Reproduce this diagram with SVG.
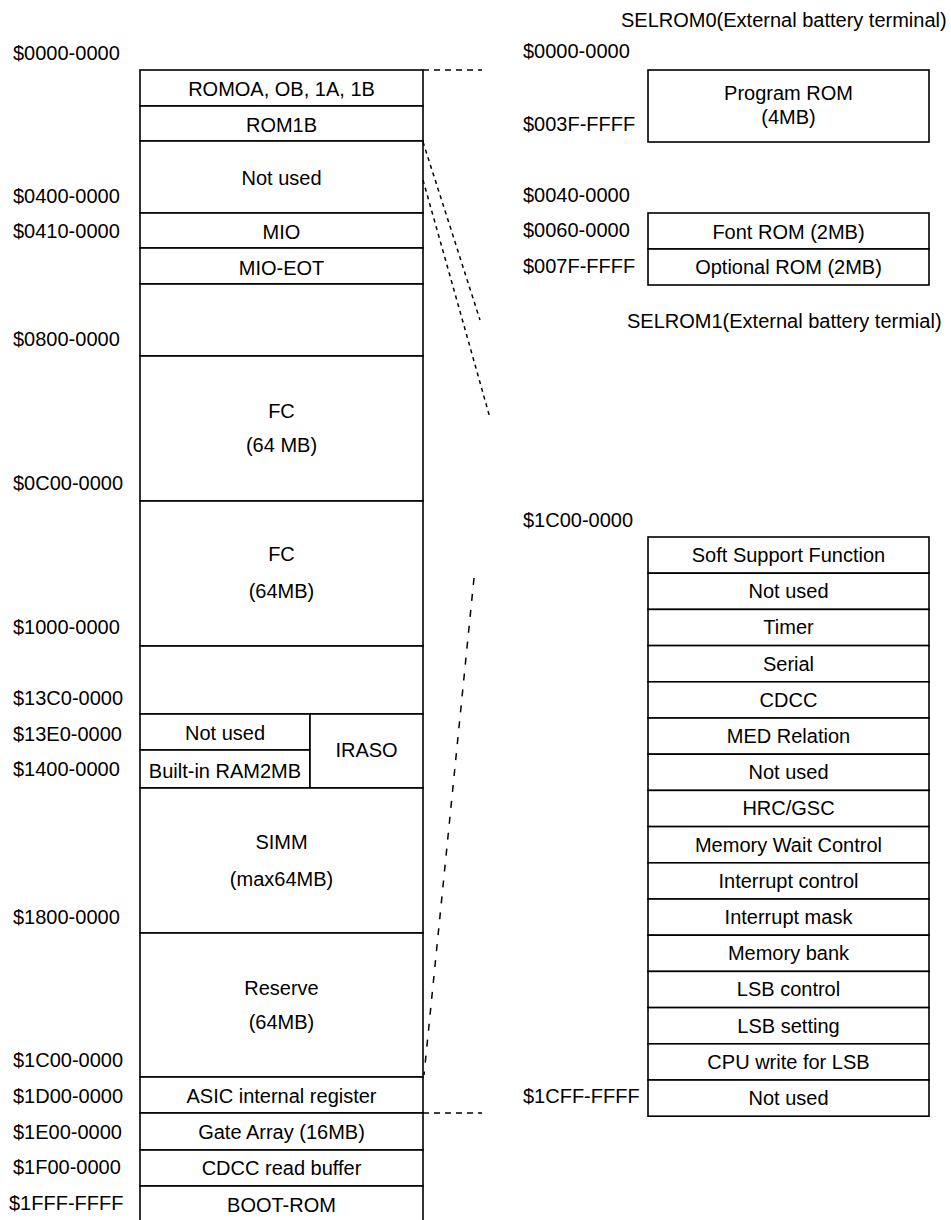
<svg xmlns="http://www.w3.org/2000/svg" width="951" height="1220" viewBox="0 0 951 1220">
<style>
text{font-family:"Liberation Sans",Arial,sans-serif;font-size:20px;fill:#000}
.c{text-anchor:middle}
.box{fill:#fff;stroke:#000;stroke-width:1.6}
.dl{fill:none;stroke:#000;stroke-width:1.5}
.h{stroke-dasharray:6 5}
.s{stroke-dasharray:4 4}
.l{stroke-dasharray:7 9}
</style>
<rect width="951" height="1220" fill="#fff"/>
<g id="addr-left">
<text x="13" y="60">$0000-0000</text>
<text x="13" y="203">$0400-0000</text>
<text x="13" y="238">$0410-0000</text>
<text x="13" y="346">$0800-0000</text>
<text x="13" y="490">$0C00-0000</text>
<text x="13" y="634">$1000-0000</text>
<text x="13" y="705">$13C0-0000</text>
<text x="13" y="741">$13E0-0000</text>
<text x="13" y="776">$1400-0000</text>
<text x="13" y="924">$1800-0000</text>
<text x="13" y="1067">$1C00-0000</text>
<text x="13" y="1103">$1D00-0000</text>
<text x="13" y="1139">$1E00-0000</text>
<text x="13" y="1174">$1F00-0000</text>
<text x="9" y="1210">$1FFF-FFFF</text>
</g>
<g id="n-romoa"><rect class="box" x="140" y="70" width="283" height="36"/><text class="c" x="281.5" y="96">ROMOA, OB, 1A, 1B</text></g>
<g id="n-rom1b"><rect class="box" x="140" y="106" width="283" height="35"/><text class="c" x="281.5" y="132">ROM1B</text></g>
<g id="n-notused1"><rect class="box" x="140" y="141" width="283" height="72"/><text class="c" x="281.5" y="185">Not used</text></g>
<g id="n-mio"><rect class="box" x="140" y="213" width="283" height="35"/><text class="c" x="281.5" y="239">MIO</text></g>
<g id="n-mioeot"><rect class="box" x="140" y="248" width="283" height="36"/><text class="c" x="281.5" y="275">MIO-EOT</text></g>
<g id="n-blank1"><rect class="box" x="140" y="284" width="283" height="72"/></g>
<g id="n-fc1"><rect class="box" x="140" y="356" width="283" height="145"/><text class="c" x="281.5" y="418">FC</text><text class="c" x="281.5" y="452">(64 MB)</text></g>
<g id="n-fc2"><rect class="box" x="140" y="501" width="283" height="145"/><text class="c" x="281.5" y="561">FC</text><text class="c" x="281.5" y="598">(64MB)</text></g>
<g id="n-blank2"><rect class="box" x="140" y="646" width="283" height="68"/></g>
<g id="n-notused2"><rect class="box" x="140" y="714" width="170" height="36"/><text class="c" x="225" y="740">Not used</text></g>
<g id="n-ram2mb"><rect class="box" x="140" y="750" width="170" height="38"/><text class="c" x="225" y="778">Built-in RAM2MB</text></g>
<g id="n-iraso"><rect class="box" x="310" y="714" width="113" height="74"/><text class="c" x="366.5" y="757">IRASO</text></g>
<g id="n-simm"><rect class="box" x="140" y="788" width="283" height="145"/><text class="c" x="281.5" y="849">SIMM</text><text class="c" x="281.5" y="886">(max64MB)</text></g>
<g id="n-reserve"><rect class="box" x="140" y="933" width="283" height="144"/><text class="c" x="281.5" y="995">Reserve</text><text class="c" x="281.5" y="1029">(64MB)</text></g>
<g id="n-asic"><rect class="box" x="140" y="1077" width="283" height="36"/><text class="c" x="281.5" y="1103">ASIC internal register</text></g>
<g id="n-gate"><rect class="box" x="140" y="1113" width="283" height="37"/><text class="c" x="281.5" y="1139">Gate Array (16MB)</text></g>
<g id="n-cdccbuf"><rect class="box" x="140" y="1150" width="283" height="36"/><text class="c" x="281.5" y="1175">CDCC read buffer</text></g>
<g id="n-bootrom"><rect class="box" x="140" y="1186" width="283" height="50"/><text class="c" x="281.5" y="1212">BOOT-ROM</text></g>

<g id="selrom0">
<text x="621" y="27">SELROM0(External battery terminal)</text>
<text x="523" y="58">$0000-0000</text>
<text x="523" y="131">$003F-FFFF</text>
<text x="523" y="202">$0040-0000</text>
<text x="523" y="237">$0060-0000</text>
<text x="523" y="273">$007F-FFFF</text>
</g>
<g id="n-progrom"><rect class="box" x="648" y="70" width="281" height="72"/><text class="c" x="788.5" y="100">Program ROM</text><text class="c" x="788.5" y="124">(4MB)</text></g>
<g id="n-fontrom"><rect class="box" x="648" y="213" width="281" height="36"/><text class="c" x="788.5" y="239">Font ROM (2MB)</text></g>
<g id="n-optrom"><rect class="box" x="648" y="249" width="281" height="36"/><text class="c" x="788.5" y="274">Optional ROM (2MB)</text></g>
<g id="selrom1"><text x="627" y="328">SELROM1(External battery termial)</text></g>

<g id="addr-right">
<text x="523" y="527">$1C00-0000</text>
<text x="523" y="1103">$1CFF-FFFF</text>
</g>
<g id="n-r01"><rect class="box" x="648" y="537" width="281" height="36.2"/><text class="c" x="788.5" y="562">Soft Support Function</text></g>
<g id="n-r02"><rect class="box" x="648" y="573.2" width="281" height="36.2"/><text class="c" x="788.5" y="598.2">Not used</text></g>
<g id="n-r03"><rect class="box" x="648" y="609.4" width="281" height="36.2"/><text class="c" x="788.5" y="634.4">Timer</text></g>
<g id="n-r04"><rect class="box" x="648" y="645.6" width="281" height="36.2"/><text class="c" x="788.5" y="670.6">Serial</text></g>
<g id="n-r05"><rect class="box" x="648" y="681.8" width="281" height="36.2"/><text class="c" x="788.5" y="706.8">CDCC</text></g>
<g id="n-r06"><rect class="box" x="648" y="718" width="281" height="36.2"/><text class="c" x="788.5" y="743">MED Relation</text></g>
<g id="n-r07"><rect class="box" x="648" y="754.2" width="281" height="36.2"/><text class="c" x="788.5" y="779.2">Not used</text></g>
<g id="n-r08"><rect class="box" x="648" y="790.4" width="281" height="36.2"/><text class="c" x="788.5" y="815.4">HRC/GSC</text></g>
<g id="n-r09"><rect class="box" x="648" y="826.6" width="281" height="36.2"/><text class="c" x="788.5" y="851.6">Memory Wait Control</text></g>
<g id="n-r10"><rect class="box" x="648" y="862.8" width="281" height="36.2"/><text class="c" x="788.5" y="887.8">Interrupt control</text></g>
<g id="n-r11"><rect class="box" x="648" y="899" width="281" height="36.2"/><text class="c" x="788.5" y="924">Interrupt mask</text></g>
<g id="n-r12"><rect class="box" x="648" y="935.2" width="281" height="36.2"/><text class="c" x="788.5" y="960.2">Memory bank</text></g>
<g id="n-r13"><rect class="box" x="648" y="971.4" width="281" height="36.2"/><text class="c" x="788.5" y="996.4">LSB control</text></g>
<g id="n-r14"><rect class="box" x="648" y="1007.6" width="281" height="36.2"/><text class="c" x="788.5" y="1032.6">LSB setting</text></g>
<g id="n-r15"><rect class="box" x="648" y="1043.8" width="281" height="36.2"/><text class="c" x="788.5" y="1068.8">CPU write for LSB</text></g>
<g id="n-r16"><rect class="box" x="648" y="1080" width="281" height="36.2"/><text class="c" x="788.5" y="1105">Not used</text></g>

<g id="connectors">
<line class="dl h" x1="423" y1="70" x2="482" y2="70"/>
<line class="dl h" x1="423" y1="1113" x2="482" y2="1113"/>
<line class="dl s" x1="423" y1="142" x2="480" y2="320"/>
<line class="dl s" x1="423" y1="180" x2="490" y2="418"/>
<line class="dl l" x1="474" y1="578" x2="424" y2="1075"/>
</g>
</svg>
